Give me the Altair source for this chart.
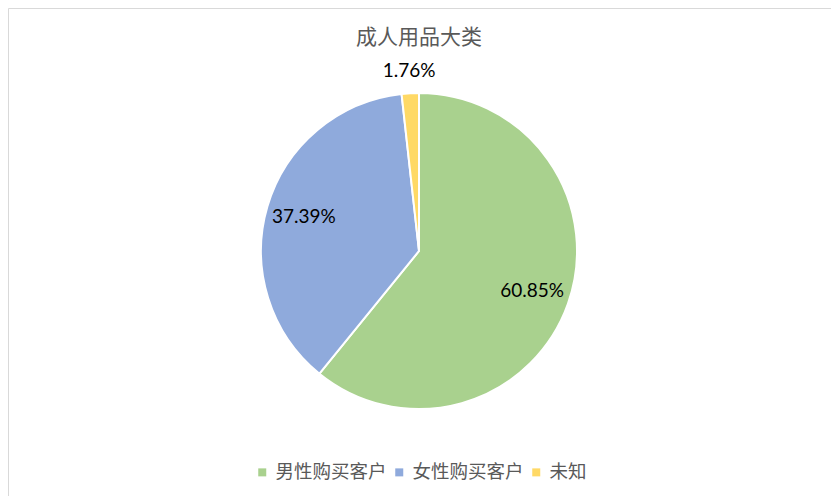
import altair as alt
import pandas as pd

categories = ["男性购买客户", "女性购买客户", "未知"]
values = [60.85, 37.39, 1.76]
labels = ["60.85%", "37.39%", "1.76%"]
colors = ["#A9D18E", "#8FAADC", "#FFD966"]
title_text = ["成人用品大类"]

df = pd.DataFrame({"cat": categories, "val": values, "lab": labels, "ord": [0, 1, 2]})

W, H = 823, 488
CX, CY, R = 411, 243, 158

base = alt.Chart(df).encode(
    theta=alt.Theta("val:Q", stack=True),
    order=alt.Order("ord:Q"),
)

pie = base.mark_arc(outerRadius=R, stroke="white", strokeWidth=2).encode(
    x=alt.value(CX), y=alt.value(CY),
    color=alt.Color(
        "cat:N",
        scale=alt.Scale(domain=categories, range=colors),
        sort=categories,
        legend=alt.Legend(
            title=None, orient="none", direction="horizontal",
            legendX=245, legendY=455, padding=0,
            symbolType="square", symbolSize=64, symbolStrokeWidth=0,
            labelFont="Noto Sans CJK SC", labelFontSize=18.5, labelColor="#595959",
            labelOffset=4, columnPadding=3,
        ),
    ),
)

inner = base.mark_text(radius=120, fontSize=19, font="Lato", color="black").encode(
    x=alt.value(CX), y=alt.value(CY),
    text=alt.condition(alt.datum.ord < 2, "lab:N", alt.value("")),
)

outer = base.mark_text(radius=180, fontSize=19, font="Lato", color="black").encode(
    x=alt.value(CX), y=alt.value(CY),
    text=alt.condition(alt.datum.ord == 2, "lab:N", alt.value("")),
)

title = alt.Chart(pd.DataFrame({"t": title_text})).mark_text(
    fontSize=21, font="Noto Sans CJK SC", color="#595959"
).encode(x=alt.value(CX), y=alt.value(30), text="t:N")

chart = alt.layer(pie, inner, outer, title).properties(
    width=W, height=H, autosize=alt.AutoSizeParams(type="none"), padding=0
).configure_view(stroke="#D9D9D9", strokeWidth=1)

chart.save("out.html", embed_options={"renderer": "svg", "actions": False})
